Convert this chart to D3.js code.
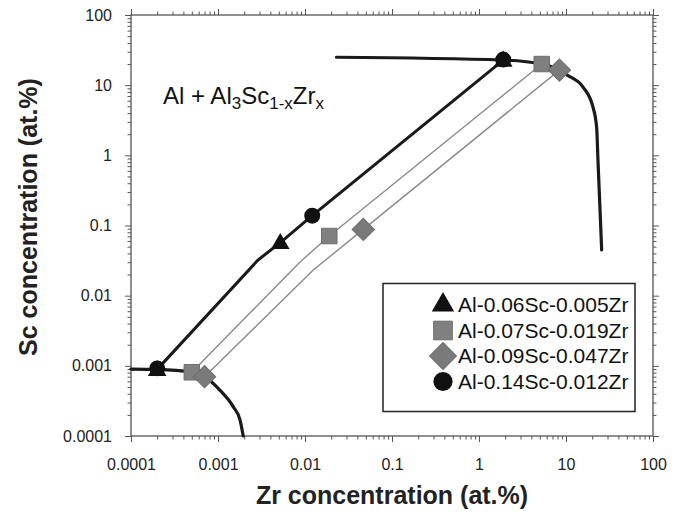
<!DOCTYPE html>
<html>
<head>
<meta charset="utf-8">
<script src="https://cdn.jsdelivr.net/npm/d3@7"></script>
<style>
  html, body { margin: 0; padding: 0; background: #fff; }
  svg { display: block; font-family: "Liberation Sans", Arial, sans-serif; }
</style>
</head>
<body>
<svg id="chart" width="679" height="515"></svg>
<script>
// ---------- data ----------
const xTickValues = [0.0001, 0.001, 0.01, 0.1, 1, 10, 100];
const xTickLabels = ["0.0001", "0.001", "0.01", "0.1", "1", "10", "100"];
const yTickValues = [0.0001, 0.001, 0.01, 0.1, 1, 10, 100];
const yTickLabels = ["0.0001", "0.001", "0.01", "0.1", "1", "10", "100"];

// alpha-Al solvus (bottom-left)
const solvusAlZr = [0.0001, 0.0002, 0.0005, 0.0007, 0.00105, 0.0015, 0.00179, 0.00195];
const solvusAlSc = [0.0009, 0.00089, 0.00081, 0.0007, 0.00045, 0.00026, 0.00017, 0.0001];

// Al3(Sc,Zr) solvus (top-right)
const solvusPptZr = [0.023, 1.9, 5.26, 8.4, 10.2, 15.7, 20.4, 22.5, 23.3, 24.6, 25.7];
const solvusPptSc = [25, 22.8, 20, 16.4, 14, 9.4, 4.9, 2.5, 0.86, 0.17, 0.045];

// tie lines
const tieBlackZr = [0.0002, 0.00288, 0.0052, 0.0121, 1.9];
const tieBlackSc = [0.00089, 0.0322, 0.057, 0.138, 22.8];
const tieSquareZr = [0.0005, 0.00877, 0.019, 5.26];
const tieSquareSc = [0.00081, 0.0302, 0.0708, 20];
const tieDiamondZr = [0.0007, 0.01244, 0.0468, 8.4];
const tieDiamondSc = [0.0007, 0.0232, 0.088, 16.4];

// series markers (matrix, alloy, precipitate)
const seriesNames = ["Al-0.06Sc-0.005Zr", "Al-0.07Sc-0.019Zr", "Al-0.09Sc-0.047Zr", "Al-0.14Sc-0.012Zr"];
const seriesSymbols = ["triangle", "square", "diamond", "circle"];
const triZr = [0.0002, 0.0052, 1.9];
const triSc = [0.00088, 0.057, 22.6];
const sqZr = [0.0005, 0.019, 5.26];
const sqSc = [0.00081, 0.0708, 20];
const diaZr = [0.0007, 0.0468, 8.4];
const diaSc = [0.0007, 0.088, 16.4];
const cirZr = [0.0002, 0.0121, 1.9];
const cirSc = [0.00092, 0.138, 23.2];

// ---------- chart ----------
const svg = d3.select("#chart");
const L = 131, R = 653, T = 15, B = 436;
const x = d3.scaleLog().domain([0.0001, 100]).range([L, R]);
const y = d3.scaleLog().domain([0.0001, 100]).range([B, T]);

const minorVals = [];
for (let e = -4; e < 2; e++) {
  for (let m = 2; m <= 9; m++) minorVals.push(m * Math.pow(10, e));
}

const axisColor = "#555";
function styleAxis(g) {
  g.select(".domain").remove();
  g.selectAll(".tick line").attr("stroke", axisColor).attr("stroke-width", 1);
  g.selectAll(".tick text").attr("fill", "#222").style("font-size", "16px")
    .style("font-family", "'Liberation Sans', Arial, sans-serif");
}

// bottom
svg.append("g").attr("transform", `translate(0,${B})`)
  .call(d3.axisBottom(x).tickValues(xTickValues).tickFormat((d, i) => xTickLabels[i]).tickSize(6).tickPadding(17))
  .call(styleAxis);
svg.append("g").attr("transform", `translate(0,${B})`)
  .call(d3.axisBottom(x).tickValues(minorVals).tickFormat("").tickSize(3.5))
  .call(styleAxis);
// top
svg.append("g").attr("transform", `translate(0,${T})`)
  .call(d3.axisTop(x).tickValues(xTickValues).tickFormat("").tickSize(6))
  .call(styleAxis);
svg.append("g").attr("transform", `translate(0,${T})`)
  .call(d3.axisTop(x).tickValues(minorVals).tickFormat("").tickSize(3.5))
  .call(styleAxis);
// left
svg.append("g").attr("transform", `translate(${L},0)`)
  .call(d3.axisLeft(y).tickValues(yTickValues).tickFormat((d, i) => yTickLabels[i]).tickSize(6).tickPadding(13))
  .call(styleAxis);
svg.append("g").attr("transform", `translate(${L},0)`)
  .call(d3.axisLeft(y).tickValues(minorVals).tickFormat("").tickSize(3.5))
  .call(styleAxis);
// right
svg.append("g").attr("transform", `translate(${R},0)`)
  .call(d3.axisRight(y).tickValues(yTickValues).tickFormat("").tickSize(6))
  .call(styleAxis);
svg.append("g").attr("transform", `translate(${R},0)`)
  .call(d3.axisRight(y).tickValues(minorVals).tickFormat("").tickSize(3.5))
  .call(styleAxis);

// frame
svg.append("rect").attr("x", L).attr("y", T).attr("width", R - L).attr("height", B - T)
  .attr("fill", "none").attr("stroke", axisColor).attr("stroke-width", 1.3);

// lines
const zip = (xs, ys) => xs.map((v, i) => [v, ys[i]]);
const lineLin = d3.line().x(d => x(d[0])).y(d => y(d[1]));
const lineSmooth = d3.line().x(d => x(d[0])).y(d => y(d[1])).curve(d3.curveMonotoneX);

svg.append("path").attr("d", lineLin(zip(tieSquareZr, tieSquareSc)))
  .attr("fill", "none").attr("stroke", "#8a8a8a").attr("stroke-width", 1.4);
svg.append("path").attr("d", lineLin(zip(tieDiamondZr, tieDiamondSc)))
  .attr("fill", "none").attr("stroke", "#8a8a8a").attr("stroke-width", 1.4);
svg.append("path").attr("d", lineLin(zip(tieBlackZr, tieBlackSc)))
  .attr("fill", "none").attr("stroke", "#1a1a1a").attr("stroke-width", 3);
svg.append("path").attr("d", lineSmooth(zip(solvusAlZr, solvusAlSc)))
  .attr("fill", "none").attr("stroke", "#1a1a1a").attr("stroke-width", 3.2).attr("stroke-linecap", "round");
svg.append("path").attr("d", lineSmooth(zip(solvusPptZr, solvusPptSc)))
  .attr("fill", "none").attr("stroke", "#1a1a1a").attr("stroke-width", 3.2).attr("stroke-linecap", "round");

// markers
const symSize = { triangle: 150, square: 240, diamond: 250, circle: 200 };
const symType = { triangle: d3.symbolTriangle, square: d3.symbolSquare, diamond: d3.symbolSquare, circle: d3.symbolCircle };
const symFill = { triangle: "#111", square: "#808080", diamond: "#7a7a7a", circle: "#111" };
function drawMarker(g, kind, px, py, scale) {
  const s = symSize[kind] * (scale || 1);
  g.append("path")
    .attr("d", d3.symbol().type(symType[kind]).size(s)())
    .attr("transform", `translate(${px},${py})` + (kind === "diamond" ? " rotate(45)" : ""))
    .attr("fill", symFill[kind])
    .attr("stroke", kind === "square" || kind === "diamond" ? "#6e6e6e" : "none")
    .attr("stroke-width", 1);
}
const mk = svg.append("g");
zip(triZr, triSc).forEach(d => drawMarker(mk, "triangle", x(d[0]), y(d[1]) + 1));
zip(sqZr, sqSc).forEach(d => drawMarker(mk, "square", x(d[0]), y(d[1])));
zip(diaZr, diaSc).forEach(d => drawMarker(mk, "diamond", x(d[0]), y(d[1])));
zip(cirZr, cirSc).forEach(d => drawMarker(mk, "circle", x(d[0]), y(d[1])));

// annotation
const ann = svg.append("text").attr("x", 163).attr("y", 104)
  .style("font-size", "24px").attr("fill", "#111");
ann.append("tspan").text("Al + Al");
ann.append("tspan").text("3").style("font-size", "17px").attr("dy", 5);
ann.append("tspan").text("Sc").attr("dy", -5);
ann.append("tspan").text("1-x").style("font-size", "17px").attr("dy", 5);
ann.append("tspan").text("Zr").attr("dy", -5);
ann.append("tspan").text("x").style("font-size", "17px").attr("dy", 5);

// legend
const lg = svg.append("g");
lg.append("rect").attr("x", 383).attr("y", 283.5).attr("width", 252).attr("height", 128)
  .attr("fill", "#fff").attr("stroke", "#222").attr("stroke-width", 1.5);
seriesNames.forEach((name, i) => {
  const ly = 305 + i * 25.5;
  drawMarker(lg, seriesSymbols[i], 443, ly, 1.45);
  lg.append("text").attr("x", 458).attr("y", ly).attr("dy", "0.35em")
    .style("font-size", "21px").attr("fill", "#111").text(name);
});

// axis titles
svg.append("text").attr("x", (L + R) / 2).attr("y", 504).attr("text-anchor", "middle")
  .style("font-size", "25px").style("font-weight", "bold").attr("fill", "#222")
  .text("Zr concentration (at.%)");
svg.append("text").attr("transform", "translate(37,217) rotate(-90)").attr("text-anchor", "middle")
  .style("font-size", "25px").style("font-weight", "bold").attr("fill", "#222")
  .text("Sc concentration (at.%)");
</script>
</body>
</html>
